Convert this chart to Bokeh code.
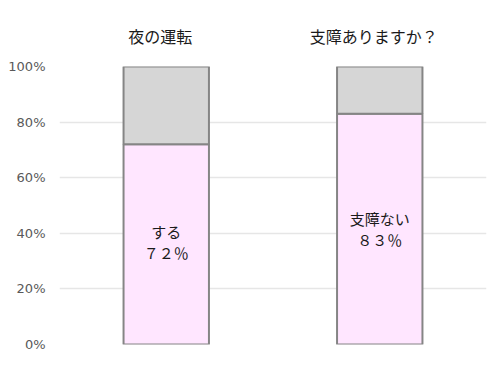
from bokeh.plotting import figure
from bokeh.models import Range1d, FixedTicker, NumeralTickFormatter, LinearAxis, ColumnDataSource
from bokeh.core.properties import value
from bokeh.embed import file_html
from bokeh.resources import INLINE

titles = ["夜の運転", "支障ありますか？"]
yes_share = [0.72, 0.83]
inner_labels = ["する\n７２％", "支障ない\n８３％"]
label_pos = [0.37, 0.417]
y_ticks = [0, 0.2, 0.4, 0.6, 0.8, 1.0]

xs = [0.5 + i for i in range(len(titles))]
rest = [1 - v for v in yes_share]
title_x = [x - 0.028 for x in xs]

p = figure(width=500, height=376, output_backend="svg", toolbar_location=None,
           x_range=Range1d(0, 2), y_range=Range1d(0, 1),
           min_border_left=59, min_border_right=14, min_border_top=66, min_border_bottom=32)
p.outline_line_color = None
p.xaxis.visible = False
p.xgrid.visible = False
p.ygrid.ticker = FixedTicker(ticks=y_ticks)
p.ygrid.grid_line_color = "#e6e6e6"
p.ygrid.grid_line_width = 1.5

ax = p.yaxis[0]
ax.ticker = FixedTicker(ticks=y_ticks)
ax.formatter = NumeralTickFormatter(format="0%")
ax.axis_line_color = None
ax.major_tick_line_color = None
ax.minor_tick_line_color = None
ax.major_label_standoff = 8
ax.major_label_text_font = "DejaVu Sans"
ax.major_label_text_font_size = "13px"
ax.major_label_text_color = "#595959"

top_axis = LinearAxis(ticker=FixedTicker(ticks=title_x),
                      major_label_overrides={x: t for x, t in zip(title_x, titles)})
top_axis.axis_line_color = None
top_axis.major_tick_line_color = None
top_axis.minor_tick_line_color = None
top_axis.major_label_standoff = 13
top_axis.major_label_text_font = "Noto Sans CJK JP"
top_axis.major_label_text_font_size = "16px"
top_axis.major_label_text_color = "#1a1a1a"
p.add_layout(top_axis, "above")

src = ColumnDataSource(dict(x=xs, yes=yes_share, rest=rest, lab=inner_labels, ly=label_pos))
p.vbar(x="x", bottom=0, top="yes", width=0.4, source=src,
       fill_color="#ffe6ff", line_color="#858585", line_width=2)
p.vbar(x="x", bottom="yes", top=1, width=0.4, source=src,
       fill_color="#d6d6d6", line_color="#858585", line_width=2)
p.text(x="x", y="ly", text="lab", source=src, text_align="center", text_baseline="middle",
       text_font=value("Noto Sans CJK JP"), text_font_size="15px", text_color="#1a1a1a",
       text_line_height=1.0)

open("out.html", "w").write(file_html(p, INLINE))
